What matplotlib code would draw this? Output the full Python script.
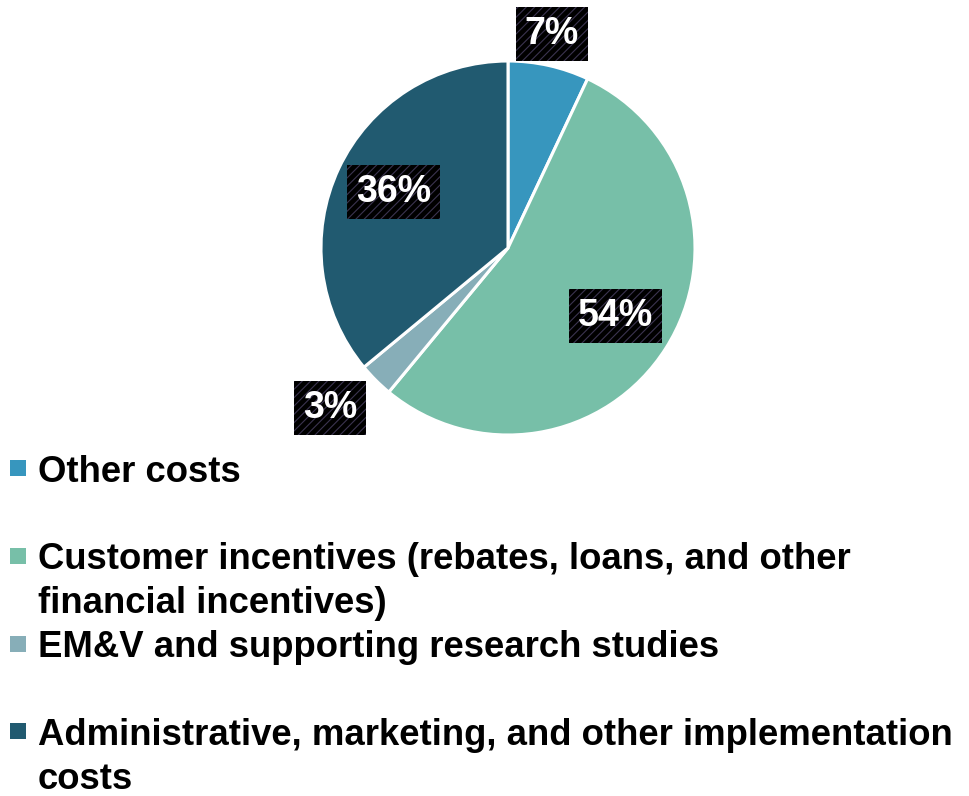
import numpy as np
import matplotlib.pyplot as plt
from matplotlib.patches import Rectangle

plt.rcParams['font.family'] = ['Liberation Sans', 'DejaVu Sans']
plt.rcParams['hatch.color'] = '#3b3450'
plt.rcParams['hatch.linewidth'] = 0.8

categories = [
    ["Other costs"],
    ["Customer incentives (rebates, loans, and other", "financial incentives)"],
    ["EM&V and supporting research studies"],
    ["Administrative, marketing, and other implementation", "costs"],
]
shares = [7, 54, 3, 36]
colors = ["#3796be", "#77bfa8", "#87aeb8", "#215a70"]
# where each percentage label sits: radius (in pie radii) and angle nudge (deg)
label_radius = [1.17, 0.68, 1.28, 0.68]
label_nudge = [1, 0, -3, -1]
# legend rows (each entry takes two text lines)
legend_rows = [0, 2, 4, 6]

W, H = 970, 796
fig = plt.figure(figsize=(W / 100, H / 100), dpi=100)

cx, cy, r = 508, 248, 187
ax = fig.add_axes([(cx - r) / W, (H - cy - r) / H, 2 * r / W, 2 * r / H])
wedges, _ = ax.pie(shares, colors=colors, startangle=90, counterclock=False,
                   wedgeprops=dict(edgecolor="white", linewidth=2.2))
ax.set_xlim(-1, 1)
ax.set_ylim(-1, 1)
ax.set_aspect("equal")
ax.axis("off")

for w, val, lr, nd in zip(wedges, shares, label_radius, label_nudge):
    ang = np.deg2rad((w.theta1 + w.theta2) / 2 + nd)
    x, y = lr * np.cos(ang), lr * np.sin(ang)
    ax.text(x, y, f"{val}%", ha="center", va="center", color="white",
            fontsize=27, fontweight="bold", clip_on=False,
            bbox=dict(boxstyle="square,pad=0.24", facecolor="black",
                      edgecolor="#3b3450", linewidth=0, hatch="////"))

# legend drawn by hand so wrapped entries keep their line spacing
line_h = 43.9
top = 468
for lines, col, row in zip(categories, colors, legend_rows):
    yc = top + row * line_h
    fig.patches.append(Rectangle((10 / W, 1 - (yc + 8) / H), 16 / W, 16 / H,
                                 transform=fig.transFigure, facecolor=col,
                                 edgecolor="none"))
    for k, line in enumerate(lines):
        fig.text(38 / W, 1 - (yc + k * line_h) / H, line, ha="left",
                 va="center_baseline", fontsize=26.3, fontweight="bold",
                 color="black")

fig.savefig("out.png", dpi=100)
